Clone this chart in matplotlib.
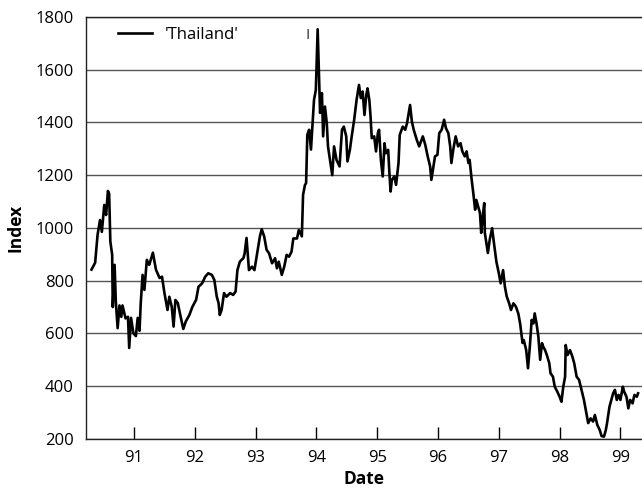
import matplotlib
matplotlib.use('Agg')
import matplotlib.pyplot as plt

plt.rcParams['font.family'] = ['Open Sans', 'DejaVu Sans']

# decimal year (90 = 1990) and index level
date = [90.30, 90.36, 90.40, 90.44, 90.47, 90.51, 90.54, 90.57, 90.59, 90.61,
        90.64, 90.65, 90.68, 90.70, 90.73, 90.76, 90.79, 90.81, 90.86, 90.90,
        90.92, 90.95, 90.99, 91.03, 91.06, 91.09, 91.11, 91.14, 91.17, 91.21,
        91.25, 91.31, 91.36, 91.42, 91.46, 91.50, 91.55, 91.58, 91.62, 91.65,
        91.68, 91.72, 91.76, 91.81, 91.85, 91.91, 91.96, 92.02, 92.06, 92.12,
        92.17, 92.22, 92.28, 92.32, 92.36, 92.39, 92.41, 92.44, 92.48, 92.52,
        92.58, 92.63, 92.67, 92.70, 92.74, 92.80, 92.82, 92.85, 92.89, 92.94,
        92.98, 93.02, 93.07, 93.10, 93.14, 93.18, 93.22, 93.27, 93.32, 93.35,
        93.38, 93.43, 93.47, 93.51, 93.55, 93.59, 93.62, 93.68, 93.71, 93.76,
        93.78, 93.81, 93.83, 93.85, 93.88, 93.91, 93.94, 93.96, 93.99, 94.02,
        94.04, 94.06, 94.09, 94.11, 94.14, 94.17, 94.19, 94.23, 94.26, 94.29,
        94.33, 94.38, 94.42, 94.45, 94.49, 94.51, 94.55, 94.58, 94.62, 94.66,
        94.70, 94.73, 94.76, 94.79, 94.82, 94.84, 94.87, 94.89, 94.91, 94.95,
        94.98, 95.01, 95.03, 95.06, 95.09, 95.12, 95.14, 95.18, 95.20, 95.22,
        95.24, 95.28, 95.31, 95.35, 95.37, 95.42, 95.46, 95.49, 95.54, 95.57,
        95.60, 95.65, 95.69, 95.75, 95.79, 95.83, 95.87, 95.89, 95.92, 95.95,
        95.99, 96.02, 96.06, 96.10, 96.13, 96.17, 96.20, 96.22, 96.25, 96.29,
        96.33, 96.37, 96.40, 96.44, 96.47, 96.50, 96.52, 96.55, 96.58, 96.61,
        96.63, 96.66, 96.69, 96.71, 96.73, 96.76, 96.77, 96.82, 96.85, 96.89,
        96.92, 96.96, 97.00, 97.03, 97.07, 97.10, 97.13, 97.17, 97.20, 97.24,
        97.28, 97.32, 97.35, 97.39, 97.41, 97.45, 97.48, 97.51, 97.54, 97.57,
        97.59, 97.62, 97.65, 97.68, 97.71, 97.73, 97.76, 97.79, 97.83, 97.85,
        97.89, 97.92, 97.96, 98.00, 98.03, 98.06, 98.09, 98.10, 98.13, 98.17,
        98.21, 98.24, 98.28, 98.32, 98.36, 98.40, 98.43, 98.47, 98.51, 98.55,
        98.58, 98.62, 98.66, 98.69, 98.73, 98.76, 98.78, 98.82, 98.85, 98.88,
        98.91, 98.94, 98.97, 99.00, 99.04, 99.06, 99.10, 99.13, 99.16, 99.20,
        99.23, 99.27, 99.29]
index = [842, 868, 974, 1030, 985, 1087, 1049, 1140, 1130, 948,
         898, 700, 860, 720, 620, 706, 663, 706, 657, 663,
         545, 659, 600, 590, 659, 610, 715, 822, 765, 879,
         860, 906, 842, 810, 815, 753, 689, 739, 701, 626,
         727, 715, 670, 617, 645, 670, 701, 727, 777, 790,
         815, 828, 822, 803, 740, 715, 670, 689, 753, 739,
         753, 746, 759, 840, 872, 886, 905, 962, 840, 853,
         840, 898, 968, 995, 968, 917, 904, 866, 885, 847,
         872, 822, 853, 898, 891, 910, 960, 960, 992, 968,
         1125, 1162, 1170, 1353, 1372, 1297, 1410, 1485, 1523, 1753,
         1600, 1436, 1511, 1347, 1460, 1397, 1309, 1246, 1200, 1309,
         1258, 1233, 1372, 1384, 1347, 1252, 1296, 1347, 1409, 1485,
         1542, 1492, 1517, 1428, 1504, 1529, 1485, 1422, 1340, 1347,
         1290, 1359, 1372, 1258, 1195, 1321, 1283, 1296, 1208, 1138,
         1182, 1195, 1163, 1246, 1353, 1384, 1372, 1397, 1466, 1403,
         1372, 1334, 1309, 1347, 1315, 1271, 1233, 1182, 1227, 1271,
         1277, 1359, 1372, 1410, 1378, 1359, 1309, 1246, 1296, 1347,
         1309, 1321, 1290, 1271, 1290, 1246, 1258, 1189, 1132, 1069,
         1106, 1081, 1056, 981, 1031, 1094, 981, 905, 955, 999,
         942, 872, 828, 790, 840, 777, 740, 714, 689, 714,
         702, 676, 638, 564, 575, 537, 468, 550, 651, 638,
         676, 638, 588, 500, 563, 550, 537, 518, 487, 449,
         436, 398, 380, 360, 341, 398, 436, 556, 518, 537,
         512, 487, 436, 424, 386, 348, 310, 260, 278, 266,
         291, 253, 234, 211, 209, 234, 260, 322, 348, 373,
         386, 348, 367, 348, 398, 380, 360, 316, 348, 335,
         367, 360, 373]

year_ticks = [91, 92, 93, 94, 95, 96, 97, 98, 99]
y_ticks = [200, 400, 600, 800, 1000, 1200, 1400, 1600, 1800]

fig = plt.figure(figsize=(6.42, 4.96), dpi=100)
ax = fig.add_axes([0.134, 0.115, 0.866, 0.851])

ax.plot(date, index, color='black', linewidth=1.9, label="'Thailand'")

ax.set_xlim(90.21, 99.355)
ax.set_ylim(200, 1800)
ax.set_xticks(year_ticks)
ax.set_xticklabels([str(y) for y in year_ticks])
ax.set_yticks(y_ticks)

ax.yaxis.grid(True, color='#555555', linewidth=1.0)
ax.set_axisbelow(True)
ax.spines['right'].set_visible(False)
for s in ['left', 'bottom', 'top']:
    ax.spines[s].set_color('#222222')
    ax.spines[s].set_linewidth(1.0)

ax.tick_params(axis='x', direction='in', length=9, width=1, pad=8, labelsize=12)
ax.tick_params(axis='y', length=0, pad=9, labelsize=12)

ax.set_xlabel('Date', fontsize=12.5, fontweight='bold', labelpad=3)
ax.set_ylabel('Index', fontsize=12.5, fontweight='bold', labelpad=8)

ax.legend(loc='upper left', frameon=False, fontsize=12, handlelength=2.0,
          handletextpad=0.8, borderaxespad=0.2, bbox_to_anchor=(0.04, 1.0))
ax.text(0.398, 0.955, 'I', transform=ax.transAxes, fontsize=11,
        color='#333333', va='center', ha='center')

fig.savefig('out.png', dpi=100)
